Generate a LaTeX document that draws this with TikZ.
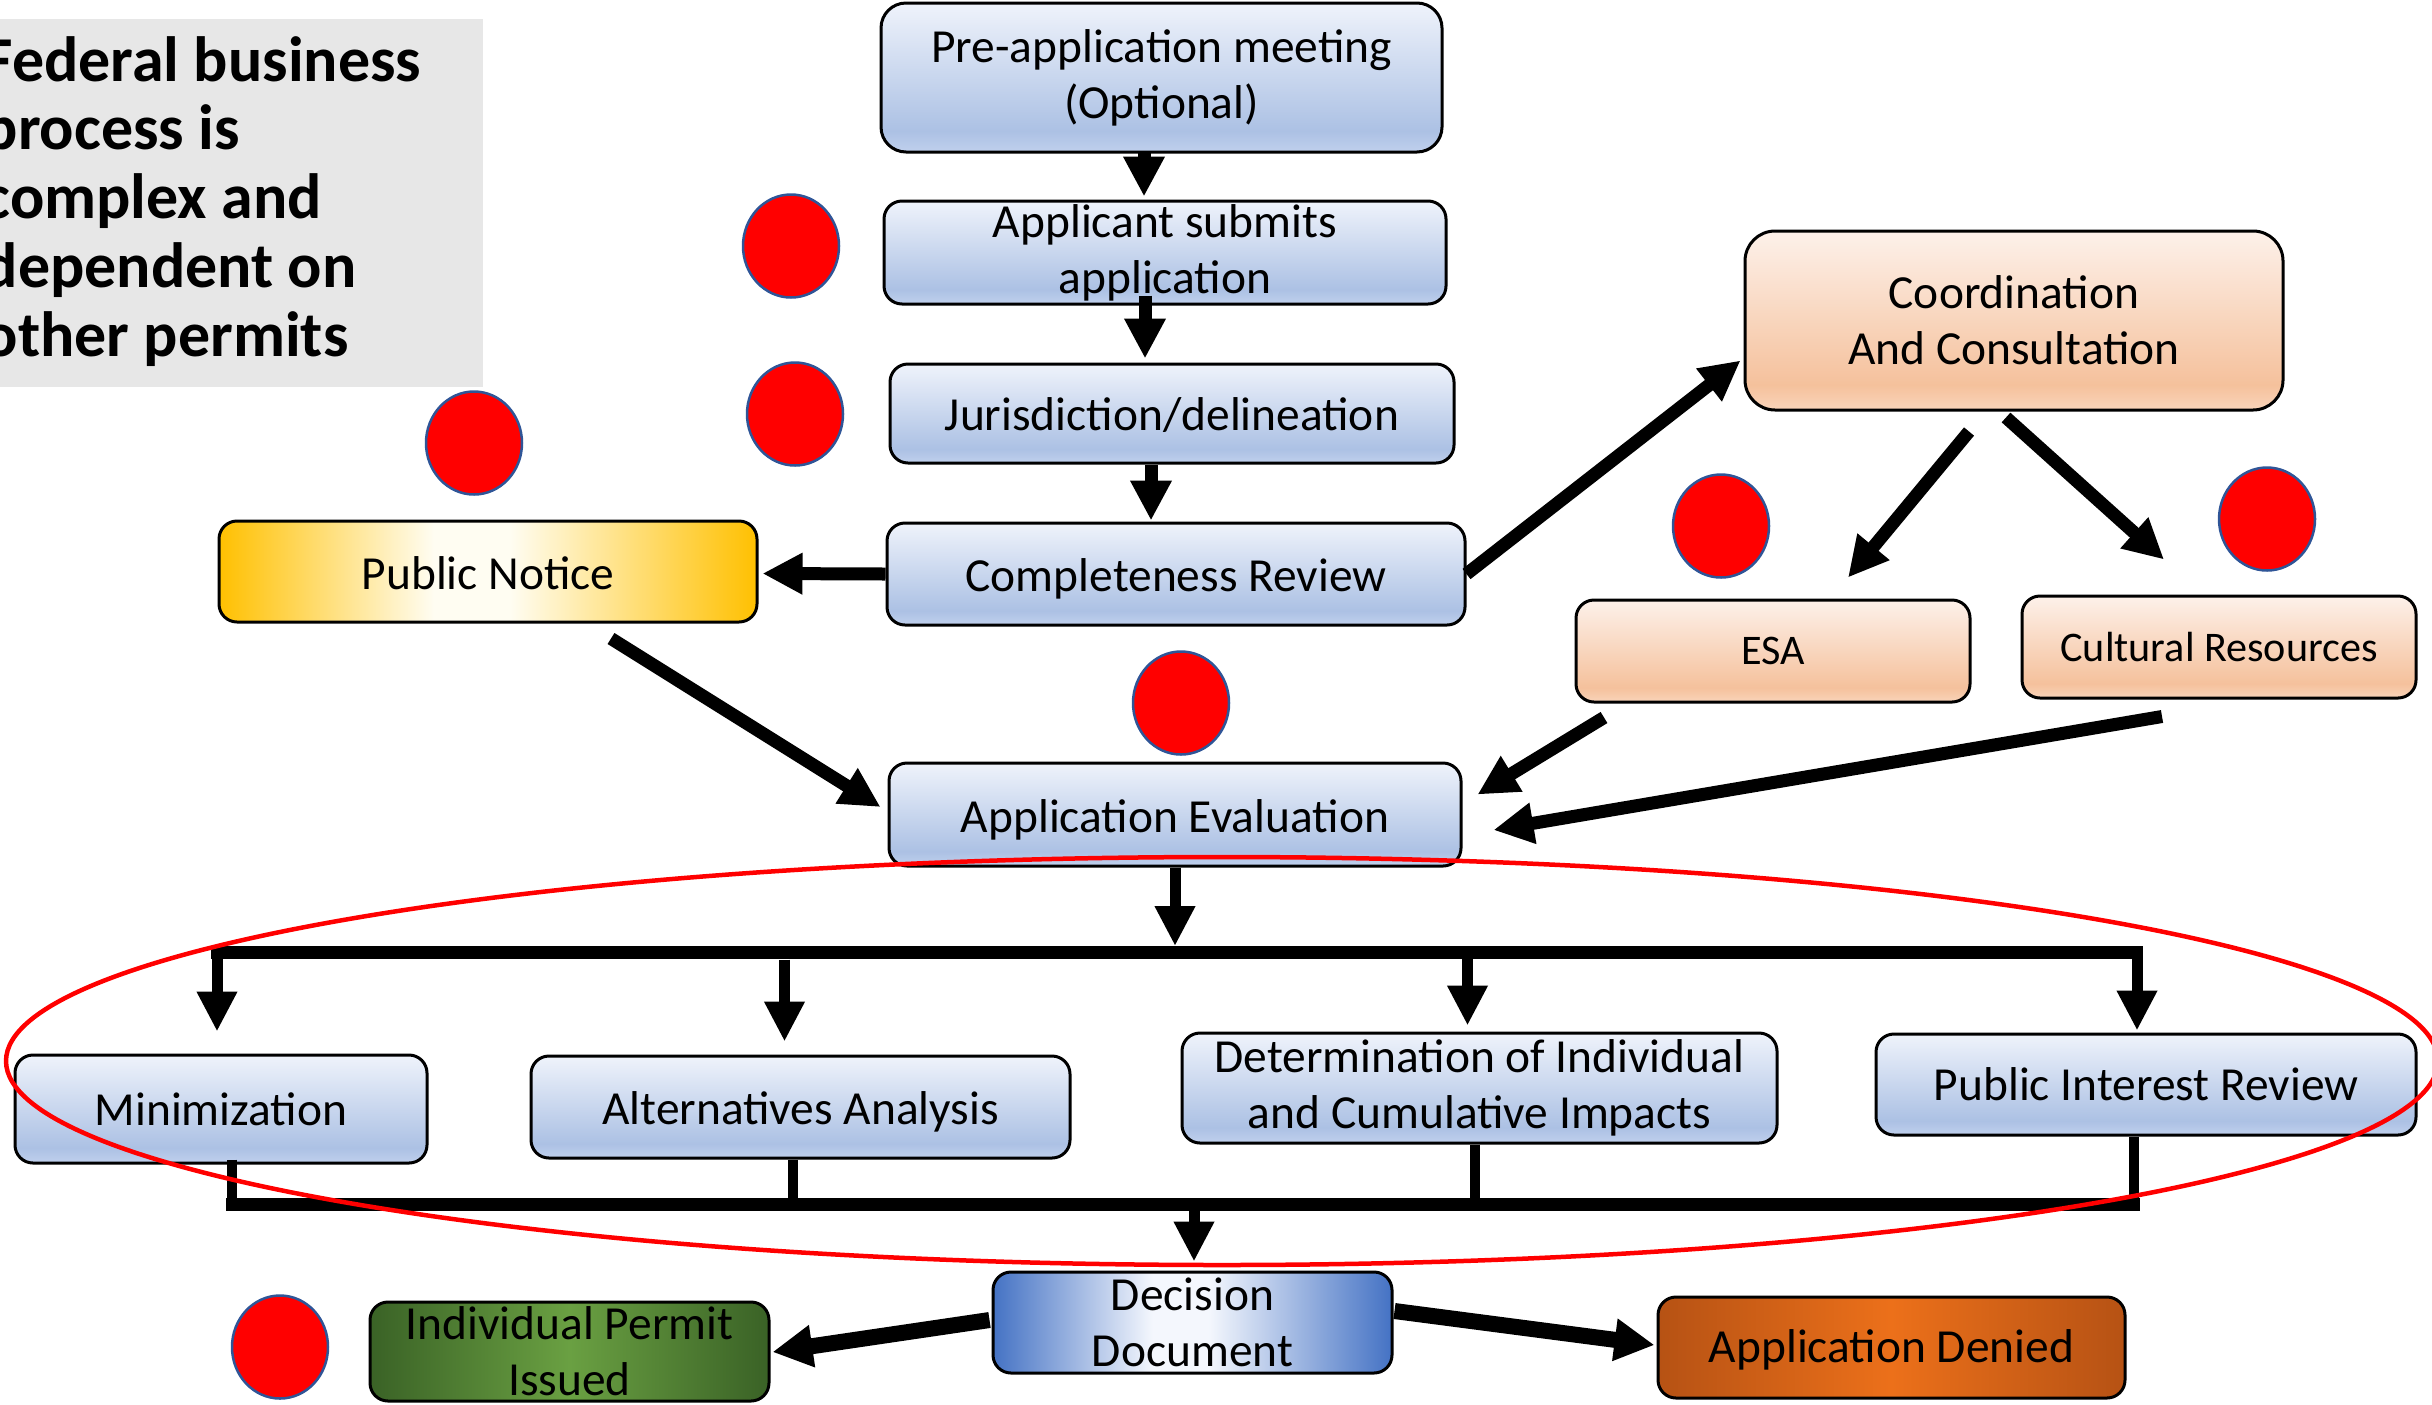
\documentclass[tikz,border=0pt]{standalone}
\usepackage{fontspec}
\setmainfont{Carlito}
\usetikzlibrary{arrows.meta,shapes.geometric,calc}

\definecolor{bT}{RGB}{239,243,251}
\definecolor{bM}{RGB}{172,193,228}
\definecolor{bB}{RGB}{192,208,237}
\definecolor{pT}{RGB}{253,241,234}
\definecolor{pM}{RGB}{245,193,156}
\definecolor{pB}{RGB}{249,212,186}
\definecolor{goldE}{RGB}{255,192,0}
\definecolor{goldW}{RGB}{255,253,242}
\definecolor{dBlue}{RGB}{68,114,196}
\definecolor{dW}{RGB}{244,247,253}
\definecolor{gE}{RGB}{58,98,38}
\definecolor{gC}{RGB}{106,160,66}
\definecolor{oE}{RGB}{182,82,20}
\definecolor{oC}{RGB}{236,112,26}
\definecolor{dotline}{RGB}{47,85,151}
\definecolor{grayfill}{RGB}{231,231,231}

\pgfdeclareverticalshading{blueg}{100bp}{color(0bp)=(bB); color(25bp)=(bB); color(32bp)=(bM); color(75bp)=(bT); color(100bp)=(bT)}
\pgfdeclareverticalshading{peachg}{100bp}{color(0bp)=(pB); color(25bp)=(pB); color(32bp)=(pM); color(75bp)=(pT); color(100bp)=(pT)}
\pgfdeclarehorizontalshading{goldg}{100bp}{color(0bp)=(goldE); color(25bp)=(goldE); color(45bp)=(goldW); color(52bp)=(goldW); color(75bp)=(goldE); color(100bp)=(goldE)}
\pgfdeclarehorizontalshading{decg}{100bp}{color(0bp)=(dBlue); color(25bp)=(dBlue); color(45bp)=(dW); color(52bp)=(dW); color(75bp)=(dBlue); color(100bp)=(dBlue)}
\pgfdeclarehorizontalshading{greeng}{100bp}{color(0bp)=(gE); color(25bp)=(gE); color(50bp)=(gC); color(75bp)=(gE); color(100bp)=(gE)}
\pgfdeclarehorizontalshading{orangeg}{100bp}{color(0bp)=(oE); color(25bp)=(oE); color(50bp)=(oC); color(75bp)=(oE); color(100bp)=(oE)}

\newcommand{\lowertext}[2]{\raisebox{-#1}[\height][\depth]{#2}}

\tikzset{
  box/.style={draw=black, line width=0.3mm, rounded corners=1.8mm, inner sep=0pt,
    align=center, text=black, font=\fontsize{13.5}{15.9}\selectfont},
  bluebox/.style={box, shading=blueg},
  peachbox/.style={box, shading=peachg},
  goldbox/.style={box, shading=goldg},
  decbox/.style={box, shading=decg},
  greenbox/.style={box, shading=greeng},
  orangebox/.style={box, shading=orangeg},
  dot/.style={ellipse, fill=red, draw=dotline, line width=0.25mm,
    minimum width=9.6mm, minimum height=10.3mm, inner sep=0pt},
  arr/.style={line width=1.3mm, -{Triangle[length=4mm,width=3.9mm]}},
  bigarr/.style={line width=1.6mm, -{Triangle[length=4mm,width=4mm]}},
  drop/.style={line width=1.1mm, -{Triangle[length=4mm,width=3.8mm]}},
  bus/.style={line width=1.3mm},
  riser/.style={line width=1.0mm},
}

\begin{document}
\begin{tikzpicture}[x=0.1mm, y=-0.1mm]
\clip (0,0) rectangle (2432,1404);

% note panel
\node[fill=grayfill, minimum width=48.3mm, minimum height=36.8mm, inner sep=0pt] (notebg) at (241.5,203) {};
\node[anchor=base west, inner sep=0pt, font=\bfseries\fontsize{18.2}{19.6}\selectfont] (note) at (-17,81)
  {\vtop{\hbox{Federal business}\hbox{process is}\hbox{complex and}\hbox{dependent on}\hbox{other permits}}};

% boxes
\node[bluebox, rounded corners=2.5mm, minimum width=56.1mm, minimum height=14.9mm] (pre) at (1161.5,77.5) {Pre-application meeting\\(Optional)};
\node[bluebox, minimum width=56.2mm, minimum height=10.3mm] (app) at (1165,252.5) {Applicant submits\\application};
\node[bluebox, minimum width=56.4mm, minimum height=9.9mm] (jur) at (1172,413.5) {\lowertext{0.15mm}{Jurisdiction/delineation}};
\node[bluebox, minimum width=57.8mm, minimum height=10.2mm] (comp) at (1176,574) {\lowertext{0.45mm}{Completeness Review}};
\node[goldbox, minimum width=53.8mm, minimum height=10.1mm] (pn) at (488,571.5) {\lowertext{0.2mm}{Public Notice}};
\node[bluebox, minimum width=57.2mm, minimum height=10.3mm] (eval) at (1175,814.5) {\lowertext{0.55mm}{Application Evaluation}};
\node[peachbox, rounded corners=3mm, minimum width=53.8mm, minimum height=17.9mm] (coord) at (2014,320.5) {Coordination\\And Consultation};
\node[peachbox, minimum width=39.4mm, minimum height=10.2mm, font=\fontsize{12}{14}\selectfont] (esa) at (1773,651) {ESA};
\node[peachbox, minimum width=39.4mm, minimum height=10.2mm, font=\fontsize{12}{14}\selectfont] (cult) at (2219,647) {Cultural Resources};
\node[bluebox, minimum width=41.2mm, minimum height=10.8mm] (min) at (221,1109) {Minimization};
\node[bluebox, minimum width=53.9mm, minimum height=10.2mm] (alt) at (800.5,1107) {\lowertext{0.45mm}{Alternatives Analysis}};
\node[bluebox, minimum width=59.5mm, minimum height=11mm] (det) at (1479.5,1088) {Determination of Individual\\and Cumulative Impacts};
\node[bluebox, minimum width=54mm, minimum height=10.1mm] (pir) at (2146,1084.5) {Public Interest Review};
\node[decbox, minimum width=39.9mm, minimum height=10.1mm] (dec) at (1192.5,1322.5) {Decision\\Document};
\node[greenbox, minimum width=39.9mm, minimum height=9.9mm] (ind) at (569.5,1351.5) {Individual Permit\\Issued};
\node[orangebox, minimum width=46.7mm, minimum height=10.1mm] (den) at (1891.5,1347.5) {\lowertext{0.2mm}{Application Denied}};

% red dots
\node[dot] (d1) at (791,246) {};
\node[dot] (d2) at (795,414) {};
\node[dot] (d3) at (474,443) {};
\node[dot] (d4) at (1181,703) {};
\node[dot] (d5) at (1721,526) {};
\node[dot] (d6) at (2267,519) {};
\node[dot] (d7) at (280,1347) {};

% main chain
\draw[arr] ($(pre.south)+(-17.5,-1)$) -- ($(app.north)+(-21,-3)$);
\draw[arr] ($(app.south)+(-20,-10)$) -- ($(jur.north)+(-27,-4)$);
\draw[arr] ($(jur.south)+(-21,0)$) -- ($(comp.north)+(-25,-1)$);
\draw[arr] (comp.west) -- ($(pn.east)+(4,2)$);
\draw[arr] (comp.east) -- ($(coord.west)+(-3,40)$);
\draw[arr] ($(coord.south)+(-45,20)$) -- ($(esa.north)+(75,-21)$);
\draw[arr] ($(coord.south)+(-8,6)$) -- ($(cult.north)+(-55,-35)$);
\draw[arr] ($(esa.south)+(-169,14)$) -- ($(eval.north east)+(15,33)$);
\draw[arr] ($(cult.south)+(-57,17)$) -- ($(eval.east)+(31,15.5)$);
\draw[arr] ($(pn.south)+(123,15)$) -- ($(eval.west)+(-7,-7.5)$);

% distribution bus
\coordinate (b1L) at (211,952);
\coordinate (b1R) at (2138,952);
\coordinate (b2L) at (226,1204);
\coordinate (b2R) at (2140,1204);
\draw[drop] (eval.south) -- ($(eval.south |- b1L)+(0,-6)$);
\draw[bus] (b1L) -- (b1R);
\draw[drop] ($(min.north |- b1L)+(-4,-6)$) -- ($(min.north)+(-4,-22)$);
\draw[drop] ($(alt.north)+(-16,-95)$) -- ($(alt.north)+(-16,-13)$);
\draw[drop] ($(det.north |- b1L)+(-12,0)$) -- ($(det.north)+(-12,-6)$);
\draw[drop] ($(pir.north |- b1L)+(-9,-6)$) -- ($(pir.north)+(-9,-2)$);

% collection bus
\draw[riser] ($(min.south)+(11,-5)$) -- ($(min.south |- b2L)+(11,0)$);
\draw[riser] ($(alt.south)+(-8,0)$) -- ($(alt.south |- b2L)+(-8,0)$);
\draw[riser] ($(det.south)+(-5,0)$) -- ($(det.south |- b2L)+(-5,0)$);
\draw[riser] ($(pir.south)+(-12,0)$) -- ($(pir.south |- b2L)+(-12,0)$);
\draw[bus] (b2L) -- (b2R);
\draw[drop] ($(dec.north |- b2L)+(1.5,0)$) -- ($(dec.north)+(1.5,-9)$);

% outcomes
\draw[bigarr] ($(dec.west)+(-2,-2.5)$) -- ($(ind.east)+(2,0.5)$);
\draw[bigarr] ($(dec.east)+(1,-11.5)$) -- ($(den.west)+(-2,-2.5)$);

% highlight ellipse
\draw[red, line width=0.45mm] (1222,1061) ellipse [x radius=121.6mm, y radius=20.4mm];
\end{tikzpicture}
\end{document}
